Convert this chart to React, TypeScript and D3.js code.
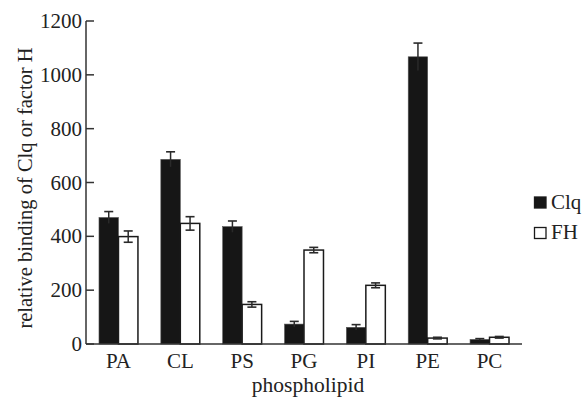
import React from "react";
import * as d3 from "d3";

const categories = ["PA", "CL", "PS", "PG", "PI", "PE", "PC"];
const seriesNames = ["Clq", "FH"];
const clqValues = [470, 686, 436, 74, 62, 1067, 17];
const clqErrors = [22, 28, 21, 10, 10, 51, 3];
const fhValues = [399, 448, 147, 349, 218, 22, 25];
const fhErrors = [21, 25, 10, 10, 9, 3, 3];
const yTicks = [0, 200, 400, 600, 800, 1000, 1200];

const W = 586;
const H = 402;
const left = 86;
const right = 522;
const top = 21;
const bottom = 344;
const FONT = "'Liberation Serif', 'Times New Roman', serif";

export default function App() {
  const x = d3.scaleBand<string>().domain(categories).range([left, right]).paddingInner(0.37).paddingOuter(0.21);
  const xs = d3.scaleBand<string>().domain(seriesNames).range([0, x.bandwidth()]);
  const y = d3.scaleLinear().domain([0, 1200]).range([bottom, top]);

  const series = [
    { name: "Clq", values: clqValues, errors: clqErrors, fill: "#161616" },
    { name: "FH", values: fhValues, errors: fhErrors, fill: "#ffffff" },
  ];
  const capW = 9;

  return (
    <svg width={W} height={H} style={{ position: "absolute", left: 0, top: 0, background: "#fff" }} fontFamily={FONT}>
      {series.map((s) =>
        categories.map((c, i) => {
          const bx = (x(c) as number) + (xs(s.name) as number);
          const bw = xs.bandwidth();
          const v = s.values[i];
          const e = s.errors[i];
          const cx = bx + bw / 2;
          return (
            <g key={s.name + c}>
              <rect
                x={bx}
                y={y(v)}
                width={bw}
                height={bottom - y(v)}
                fill={s.fill}
                stroke={s.name === "FH" ? "#1a1a1a" : "#555"}
                strokeWidth={s.name === "FH" ? 1.5 : 0.6}
              />
              <line x1={cx} x2={cx} y1={y(v + e)} y2={y(Math.max(0, v - e))} stroke="#2a2a2a" strokeWidth={1.5} />
              <line x1={cx - capW / 2} x2={cx + capW / 2} y1={y(v + e)} y2={y(v + e)} stroke="#2a2a2a" strokeWidth={1.6} />
              {s.name === "FH" && (
                <line x1={cx - capW / 2} x2={cx + capW / 2} y1={y(v - e)} y2={y(v - e)} stroke="#2a2a2a" strokeWidth={1.6} />
              )}
            </g>
          );
        })
      )}
      {/* axes */}
      <line x1={left} x2={left} y1={top} y2={bottom} stroke="#333" strokeWidth={1.5} />
      <line x1={left} x2={right} y1={bottom} y2={bottom} stroke="#333" strokeWidth={1.5} />
      {yTicks.map((t) => (
        <g key={t}>
          <line x1={left} x2={left + 8} y1={y(t)} y2={y(t)} stroke="#333" strokeWidth={1.5} />
          <text x={left - 4} y={y(t) + 7} textAnchor="end" fontSize={21} fill="#222">
            {t}
          </text>
        </g>
      ))}
      {categories.map((c) => (
        <text key={c} x={(x(c) as number) + x.bandwidth() / 2} y={368} textAnchor="middle" fontSize={21} fill="#222">
          {c}
        </text>
      ))}
      <text x={308} y={392} textAnchor="middle" fontSize={21.5} fill="#222">
        phospholipid
      </text>
      <text
        transform={`translate(32, ${188}) rotate(-90)`}
        textAnchor="middle"
        fontSize={20.5}
        fill="#222"
      >
        relative binding of Clq or factor H
      </text>
      {/* legend */}
      {series.map((s, i) => (
        <g key={s.name} transform={`translate(534, ${197 + i * 30.5})`}>
          <rect x={0.5} y={0} width={11.5} height={11} fill={s.fill} stroke="#1a1a1a" strokeWidth={1.3} />
          <text x={17} y={11.5} fontSize={21} fill="#222">
            {s.name}
          </text>
        </g>
      ))}
    </svg>
  );
}
